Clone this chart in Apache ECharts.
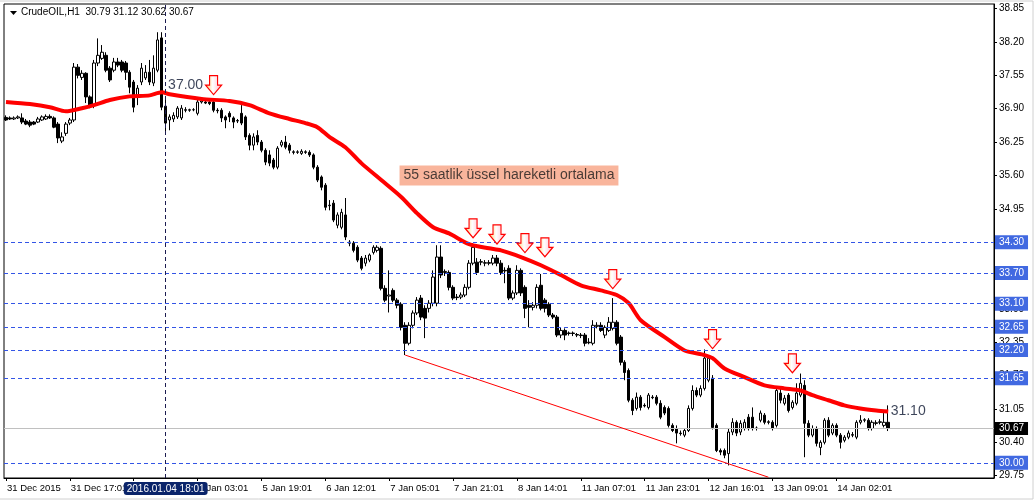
<!DOCTYPE html>
<html><head><meta charset="utf-8">
<script src="https://cdn.jsdelivr.net/npm/echarts@6/dist/echarts.min.js"></script>
<style>html,body{margin:0;padding:0;background:#fff}#c{width:1036px;height:501px}</style>
</head><body><div id="c"></div>
<script>
const titleText = 'CrudeOIL,H1  30.79 31.12 30.62 30.67';
const xTickLabels = ['31 Dec 2015','31 Dec 17:01','4 Jan 10:01','5 Jan 03:01','5 Jan 19:01','6 Jan 12:01','7 Jan 05:01','7 Jan 21:01','8 Jan 14:01','11 Jan 07:01','11 Jan 23:01','12 Jan 16:01','13 Jan 09:01','14 Jan 02:01'];
const yTicks = [29.75,30.40,31.05,31.70,32.35,33.00,33.65,34.30,34.95,35.60,36.25,36.90,37.55,38.20,38.85];
// [open, high, low, close]
const candles = [
[36.73,36.77,36.66,36.68],[36.72,36.75,36.68,36.70],[36.70,36.75,36.68,36.72],[36.72,36.77,36.70,36.74],
[36.72,36.81,36.60,36.64],[36.66,36.70,36.58,36.60],[36.64,36.68,36.54,36.58],[36.64,36.66,36.58,36.60],
[36.64,36.74,36.62,36.70],[36.68,36.77,36.66,36.74],[36.70,36.79,36.68,36.75],[36.75,36.79,36.70,36.72],
[36.72,36.75,36.52,36.54],[36.60,36.64,36.23,36.33],[36.27,36.44,36.23,36.35],[36.42,36.64,36.37,36.60],
[36.62,36.72,36.58,36.68],[36.68,37.79,36.64,37.71],[37.71,37.77,37.49,37.55],[37.51,37.65,37.46,37.59],
[37.59,37.61,37.01,37.13],[37.13,37.16,36.91,36.95],[36.97,37.85,36.91,37.79],[37.79,38.27,37.73,37.94],
[37.88,38.14,37.85,38.00],[37.94,38.00,37.61,37.65],[37.69,37.73,37.42,37.46],[37.65,37.89,37.61,37.81],
[37.81,37.89,37.71,37.75],[37.81,37.85,37.61,37.65],[37.79,37.83,37.46,37.61],[37.61,37.65,37.20,37.32],
[37.42,37.46,36.83,36.93],[37.13,37.36,36.97,37.30],[37.42,37.79,37.36,37.69],[37.50,37.75,37.46,37.61],
[37.61,37.85,37.36,37.42],[37.40,37.94,37.34,37.69],[37.65,38.39,37.61,38.24],[38.28,38.39,36.87,36.93],
[36.95,37.07,36.46,36.62],[36.68,36.79,36.48,36.74],[36.70,36.83,36.64,36.77],[36.74,36.95,36.70,36.91],
[36.72,36.97,36.68,36.91],[36.88,36.93,36.83,36.87],[36.87,36.90,36.84,36.88],[36.88,36.91,36.85,36.88],
[36.81,37.07,36.77,37.03],[37.03,37.07,37.00,37.05],[37.03,37.07,36.99,37.01],[37.03,37.06,36.97,37.00],
[37.03,37.07,36.83,36.87],[36.87,36.91,36.81,36.86],[36.87,36.91,36.64,36.72],[36.74,36.77,36.52,36.68],
[36.81,36.85,36.64,36.74],[36.72,36.75,36.52,36.64],[36.66,36.70,36.62,36.67],[36.81,36.97,36.58,36.62],
[36.74,36.77,36.29,36.35],[36.38,36.42,36.09,36.19],[36.19,36.42,36.09,36.35],[36.38,36.48,36.19,36.25],
[36.25,36.29,36.05,36.09],[36.09,36.13,35.80,35.86],[36.00,36.09,35.78,35.84],[35.90,35.94,35.72,35.76],
[35.76,36.17,35.72,36.13],[36.19,36.29,36.15,36.25],[36.25,36.37,36.11,36.15],[36.19,36.23,36.03,36.09],
[36.06,36.09,36.01,36.05],[36.05,36.09,36.02,36.06],[36.03,36.11,36.00,36.07],[36.06,36.09,36.02,36.05],
[36.05,36.09,35.96,36.00],[36.00,36.03,35.72,35.76],[35.76,35.80,35.47,35.51],[35.57,35.60,35.31,35.37],
[35.41,35.45,34.92,34.98],[35.01,35.12,34.92,35.02],[35.06,35.12,34.69,34.73],[34.63,34.88,34.57,34.83],
[34.59,34.95,34.55,34.88],[34.83,35.16,34.34,34.40],[34.30,34.34,34.22,34.28],[34.28,34.32,34.10,34.14],
[34.20,34.24,33.91,33.95],[33.99,34.03,33.75,33.79],[33.89,34.05,33.83,33.99],[33.95,34.08,33.91,34.05],
[34.10,34.24,34.06,34.20],[34.14,34.24,34.10,34.20],[34.18,34.22,33.36,33.40],[33.40,33.46,33.13,33.17],
[33.25,33.75,32.93,33.27],[33.36,33.40,33.13,33.17],[33.17,33.21,33.01,33.07],[33.09,33.13,32.58,32.64],
[32.68,32.74,32.10,32.33],[32.33,32.74,32.29,32.68],[32.68,32.97,32.62,32.92],[32.92,33.23,32.88,33.17],
[33.21,33.27,32.78,32.84],[33.01,33.07,32.43,32.82],[33.01,33.17,32.93,33.11],[33.11,33.75,33.05,33.62],
[33.11,34.24,33.05,34.01],[34.01,34.24,33.60,33.66],[33.71,33.77,33.64,33.73],[33.71,33.75,33.36,33.42],
[33.42,33.46,33.17,33.21],[33.23,33.29,33.17,33.22],[33.23,33.32,33.19,33.27],[33.27,33.48,33.23,33.42],
[33.42,33.95,33.38,33.89],[33.89,34.28,33.85,34.20],[33.91,33.99,33.66,33.71],[33.91,33.97,33.85,33.92],
[33.89,33.95,33.83,33.90],[33.90,33.95,33.85,33.89],[33.89,34.05,33.85,33.99],[33.99,34.05,33.83,33.89],
[33.89,33.95,33.66,33.71],[33.75,33.81,33.50,33.74],[33.79,33.85,33.17,33.21],[33.21,33.36,33.17,33.31],
[33.31,33.85,33.27,33.75],[33.75,33.79,33.25,33.31],[33.42,33.46,32.82,33.01],[33.07,33.17,32.64,33.03],
[33.03,33.13,32.97,33.07],[33.07,33.48,33.01,33.42],[33.46,33.68,32.97,33.01],[33.17,33.21,32.93,33.01],
[33.09,33.13,32.84,32.88],[32.88,32.92,32.80,32.84],[32.84,32.88,32.45,32.49],[32.49,32.64,32.43,32.58],
[32.58,32.62,32.39,32.49],[32.52,32.56,32.48,32.53],[32.53,32.56,32.47,32.52],[32.50,32.53,32.45,32.49],
[32.49,32.53,32.43,32.48],[32.49,32.53,32.27,32.33],[32.35,32.43,32.31,32.34],[32.33,32.78,32.29,32.68],
[32.66,32.74,32.62,32.68],[32.68,32.74,32.55,32.58],[32.49,32.68,32.43,32.64],[32.58,32.84,32.55,32.74],
[32.62,33.21,32.58,32.74],[32.74,32.78,32.29,32.33],[32.45,32.49,31.90,31.96],[31.96,32.00,31.61,31.76],
[31.80,31.84,31.18,31.22],[31.22,31.26,30.93,31.02],[31.06,31.37,31.02,31.28],[31.28,31.32,31.02,31.08],
[31.12,31.16,31.08,31.11],[31.08,31.36,31.04,31.32],[31.28,31.32,31.24,31.27],[31.28,31.32,31.12,31.16],
[31.16,31.22,30.85,30.89],[31.08,31.12,30.93,30.97],[31.06,31.10,30.69,30.73],[30.73,30.77,30.60,30.63],
[30.67,30.73,30.38,30.58],[30.58,30.63,30.53,30.57],[30.54,30.67,30.50,30.63],[30.63,31.12,30.60,31.06],
[31.06,31.51,31.02,31.41],[31.41,31.47,31.28,31.32],[31.32,31.51,31.28,31.45],[31.45,32.21,31.41,32.04],
[31.61,32.10,31.57,32.04],[31.65,31.71,30.65,30.69],[30.73,30.77,30.21,30.24],[30.24,30.28,30.15,30.21],
[30.24,30.28,30.09,30.15],[30.18,30.67,29.95,30.60],[30.60,30.87,30.54,30.79],[30.79,30.83,30.52,30.58],
[30.60,30.83,30.54,30.77],[30.67,30.85,30.63,30.79],[30.89,30.95,30.63,30.67],[30.89,31.08,30.63,30.67],
[30.68,30.71,30.63,30.67],[30.83,31.02,30.79,30.97],[30.93,30.97,30.75,30.79],[30.80,30.83,30.75,30.79],
[30.79,30.83,30.63,30.67],[30.73,31.45,30.69,31.41],[31.36,31.45,31.16,31.22],[31.16,31.32,31.12,31.26],
[31.32,31.36,30.98,31.02],[31.08,31.22,31.04,31.18],[31.16,31.55,31.12,31.36],[31.32,31.74,31.28,31.55],
[31.51,31.61,30.11,30.77],[30.77,30.83,30.50,30.54],[30.54,30.73,30.50,30.67],[30.67,30.71,30.32,30.38],
[30.30,30.44,30.15,30.40],[30.40,30.87,30.36,30.83],[30.83,30.89,30.50,30.54],[30.58,30.77,30.54,30.73],
[30.73,30.77,30.50,30.54],[30.54,30.58,30.28,30.40],[30.44,30.54,30.40,30.50],[30.50,30.63,30.46,30.58],
[30.55,30.60,30.50,30.54],[30.50,30.83,30.46,30.79],[30.79,30.93,30.75,30.83],[30.83,30.87,30.79,30.84],
[30.83,30.87,30.63,30.67],[30.67,30.83,30.63,30.79],[30.78,30.83,30.73,30.77],[30.79,30.85,30.75,30.80],
[30.73,30.97,30.69,30.79],[30.79,31.12,30.62,30.67]
];
// 55-hour EMA at these bars: [bar, value]
const emaPoints = [
[0,37.03],[6,36.99],[11,36.93],[15,36.85],[19,36.91],[22,36.97],[26,37.07],[31,37.14],[36,37.16],[39,37.22],
[41,37.18],[49,37.09],[56,37.05],[61,36.97],[66,36.81],[71,36.70],[75,36.62],[78,36.54],[81,36.35],[85,36.15],
[89,35.84],[94,35.51],[99,35.18],[103,34.86],[107,34.59],[111,34.47],[116,34.26],[121,34.18],[124,34.14],[129,34.01],
[134,33.85],[139,33.66],[144,33.46],[149,33.36],[153,33.27],[156,33.11],[159,32.78],[165,32.45],[170,32.19],[175,32.10],
[177,32.04],[180,31.84],[185,31.67],[190,31.51],[195,31.45],[199,31.41],[202,31.32],[206,31.22],[210,31.12],[214,31.06],
[218,31.02],[221,31.00]
];
const levels = [34.30, 33.70, 33.10, 32.65, 32.20, 31.65, 30.00];
const lastPrice = 30.67;
const crossBar = 40;
const crossLabel = '2016.01.04 18:01';
const arrowBars = [52, 117, 123, 130, 135, 152, 177, 197];
const arrowPrices = [37.36, 34.57, 34.45, 34.28, 34.20, 33.58, 32.41, 31.94];
const trendLine = [[100, 32.10], [191, 29.72]];
const noteBars = [45, 226];
const notePrices = [37.36, 31.00];
const noteTexts = ['37.00', '31.10'];
const emaNote = {bar: 126, price: 35.60, text: '55 saatlik üssel hareketli ortalama'};
const slotCount = 248;

const chart = echarts.init(document.getElementById('c'), null, {renderer: 'canvas'});
const cats = Array.from({length: slotCount}, (_, i) => String(i));
const FONT = 'Liberation Sans';

const option = {
  animation: false,
  backgroundColor: '#ffffff',
  grid: {left: 4, top: 4, right: 42, bottom: 23, show: true, borderColor: '#000', borderWidth: 1, backgroundColor: '#fff'},
  xAxis: {
    type: 'category', data: cats, boundaryGap: true,
    axisLine: {show: true, lineStyle: {color: '#000'}},
    axisTick: {show: true, alignWithLabel: true, length: 3, interval: (i) => i % 16 === 0 && i / 16 < xTickLabels.length, lineStyle: {color: '#000'}},
    axisLabel: {show: true, interval: (i) => i % 16 === 0 && i / 16 < xTickLabels.length, formatter: (v, i) => xTickLabels[i / 16] || '',
      align: 'left', margin: 5, padding: [0, 0, 0, 1], color: '#000', fontFamily: FONT, fontSize: 9.5},
    splitLine: {show: false},
    axisPointer: {show: true, value: crossBar, status: 'show', type: 'line', triggerTooltip: false,
      lineStyle: {color: '#1c1c50', type: [4, 3], width: 1},
      label: {show: true, formatter: () => crossLabel, backgroundColor: '#0a246a', color: '#fff', fontFamily: FONT, fontSize: 10, padding: [2, 3, 1, 3], margin: 4}}
  },
  yAxis: {
    type: 'value', position: 'right', min: 29.705, max: 38.94, scale: true,
    axisLine: {show: true, lineStyle: {color: '#000'}},
    axisTick: {show: true, length: 3, inside: false, customValues: yTicks, lineStyle: {color: '#000'}},
    axisLabel: {show: true, customValues: yTicks, formatter: (v) => v.toFixed(2), margin: 5, color: '#000', fontFamily: FONT, fontSize: 10},
    splitLine: {show: false},
    axisPointer: {show: false}
  },
  series: [
    {
      name: 'levels', type: 'line', data: [], z: 1, silent: true,
      markLine: {
        silent: true, symbol: ['none', 'none'], animation: false,
        data: [
          ...levels.map(v => ({yAxis: v, lineStyle: {color: '#3355e6', type: [4, 3], width: 1},
            label: {show: true, position: 'end', formatter: v.toFixed(2), backgroundColor: '#4169e1', color: '#fff',
              fontFamily: FONT, fontSize: 10, padding: [3, 4, 1, 4], distance: 1}})),
          {yAxis: lastPrice, lineStyle: {color: '#c0c0c0', type: 'solid', width: 1},
            label: {show: true, position: 'end', formatter: lastPrice.toFixed(2), backgroundColor: '#000', color: '#fff',
              fontFamily: FONT, fontSize: 10, padding: [2, 4, 1, 4], distance: 1}}
        ]
      }
    },
    {
      name: 'CrudeOIL', type: 'candlestick', z: 3, barWidth: 3,
      data: candles.map(c => [c[0], c[3], c[2], c[1]]),
      itemStyle: {color: '#ffffff', color0: '#000000', borderColor: '#000000', borderColor0: '#000000', borderWidth: 1}
    },
    {
      name: 'trend', type: 'line', data: [], z: 2, silent: true,
      markLine: {silent: true, symbol: ['none', 'none'], label: {show: false},
        lineStyle: {color: '#ff0000', width: 1, type: 'solid'},
        data: [[{coord: trendLine[0]}, {coord: trendLine[1]}]]}
    },
    {
      name: 'EMA55', type: 'line', z: 4, data: emaPoints, symbol: 'none', smooth: 0.25,
      lineStyle: {color: '#ff0000', width: 4}
    },
    {
      name: 'arrows', type: 'scatter', z: 6, symbol: 'path://M4,0 L12,0 L12,9 L16,9 L8,18 L0,9 L4,9 Z', symbolSize: [16, 19],
      data: arrowBars.map((b, k) => [b, arrowPrices[k]]),
      itemStyle: {color: new echarts.graphic.LinearGradient(0, 0, 1, 0, [{offset: 0, color: '#ffc860'}, {offset: 0.45, color: '#ffffff'}, {offset: 1, color: '#ffb8c8'}]),
        borderColor: '#ff0000', borderWidth: 1.2, opacity: 1}
    },
    {
      name: 'notes', type: 'scatter', z: 7, symbolSize: 0,
      data: noteBars.map((b, k) => ({value: [b, notePrices[k]], name: noteTexts[k]})),
      label: {show: true, position: 'inside', formatter: (p) => p.name, color: '#0b1530', fontFamily: FONT, fontSize: 14}
    },
    {
      name: 'emaNote', type: 'scatter', z: 7, symbolSize: 0,
      data: [{value: [emaNote.bar, emaNote.price], name: emaNote.text}],
      label: {show: true, position: 'inside', formatter: (p) => p.name, color: '#1a1a1a', fontFamily: FONT, fontSize: 14,
        backgroundColor: '#f8a283', padding: [3, 4, 3, 4]}
    }
  ],
  graphic: [
    {type: 'polygon', shape: {points: [[10, 11], [17, 11], [13.5, 15]]}, style: {fill: '#000'}, z: 10},
    {type: 'text', left: 21, top: 7, style: {text: titleText, fill: '#000', font: '10px "Liberation Sans"'}, z: 10},
    {type: 'line', shape: {x1: 0, y1: 1, x2: 1033, y2: 1}, style: {stroke: '#d0d0d0', lineWidth: 1}, z: 10},
    {type: 'line', shape: {x1: 1033, y1: 1, x2: 1033, y2: 499}, style: {stroke: '#d0d0d0', lineWidth: 1}, z: 10},
    {type: 'line', shape: {x1: 0, y1: 499, x2: 1033, y2: 499}, style: {stroke: '#d0d0d0', lineWidth: 1}, z: 10}
  ]
};
chart.setOption(option);
</script></body></html>
